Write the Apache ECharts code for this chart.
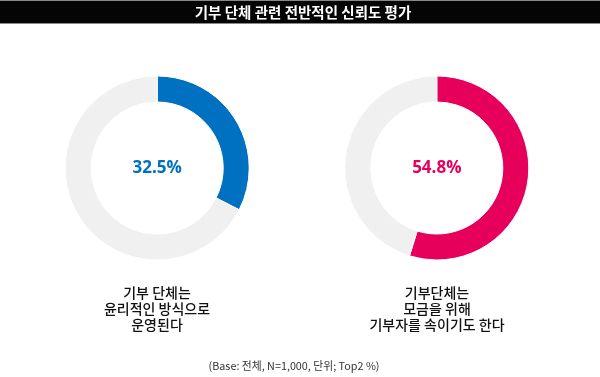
<!DOCTYPE html>
<html>
<head>
<meta charset="utf-8">
<script src="https://cdn.jsdelivr.net/npm/echarts@6/dist/echarts.min.js"></script>
<style>
  html, body { margin: 0; padding: 0; background: #fff; }
  #chart { width: 600px; height: 377px; }
</style>
</head>
<body>
<div id="chart"></div>
<script>
const titleText = '기부 단체 관련 전반적인 신뢰도 평가';
const names = ['기부 단체는\n윤리적인 방식으로\n운영된다', '기부단체는\n모금을 위해\n기부자를 속이기도 한다'];
const values = [32.5, 54.8];
const colors = ['#0070c0', '#e6005c'];
const centersX = ['26.2%', '72.8%'];
const footnote = '(Base: 전체, N=1,000, 단위; Top2 %)';

const KR = '"Noto Sans CJK KR", sans-serif';

let chart = echarts.init(document.getElementById('chart'));

let series = values.map((v, i) => ({
  type: 'pie',
  center: [centersX[i], 168],
  radius: [66, 92],
  startAngle: 90,
  clockwise: true,
  silent: true,
  label: { show: false },
  labelLine: { show: false },
  itemStyle: { borderColor: '#fff', borderWidth: 1 },
  data: [
    {
      value: v,
      itemStyle: { color: colors[i] },
      label: {
        show: true,
        position: 'center',
        formatter: v.toFixed(1) + '%',
        color: colors[i],
        fontSize: 17,
        fontWeight: 'bold',
        fontFamily: '"Open Sans", sans-serif'
      }
    },
    { value: +(100 - v).toFixed(1), itemStyle: { color: '#f0f0f0' } }
  ]
}));

chart.setOption({
  animation: false,
  graphic: [
    { type: 'rect', shape: { x: 0, y: 0, width: 600, height: 24 }, style: { fill: '#050505' } },
    { type: 'rect', shape: { x: 0, y: 0, width: 600, height: 1 }, style: { fill: '#888' } },
    { type: 'rect', shape: { x: 0, y: 23, width: 600, height: 1 }, style: { fill: '#888' } },
    {
      type: 'text', x: 303, y: 12,
      style: { text: titleText, fill: '#fff', font: 'bold 14.5px ' + KR, align: 'center', verticalAlign: 'middle' }
    },
    {
      type: 'text', x: 157, y: 285,
      style: { text: names[0], fill: '#111', font: '500 14px ' + KR, lineHeight: 16, align: 'center', verticalAlign: 'top' }
    },
    {
      type: 'text', x: 437, y: 285,
      style: { text: names[1], fill: '#111', font: '500 14px ' + KR, lineHeight: 16, align: 'center', verticalAlign: 'top' }
    },
    {
      type: 'text', x: 294, y: 366,
      style: { text: footnote, fill: '#333', font: '10.8px ' + KR, align: 'center', verticalAlign: 'middle' }
    }
  ],
  series: series
});
</script>
</body>
</html>
